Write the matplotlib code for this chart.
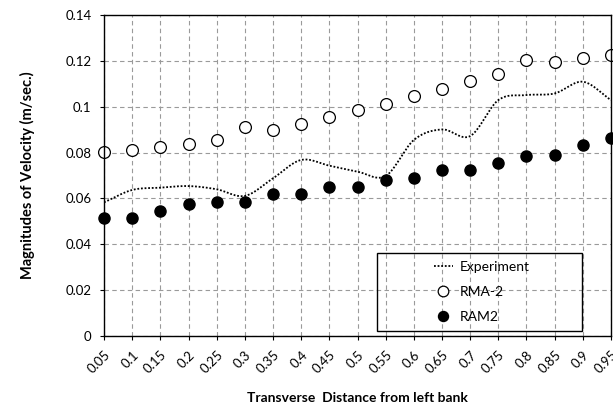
import numpy as np
import matplotlib
matplotlib.use("Agg")
import matplotlib.pyplot as plt
from matplotlib.patches import Rectangle

# transverse positions (category labels)
dist = ["0.05", "0.1", "0.15", "0.2", "0.25", "0.3", "0.35", "0.4", "0.45", "0.5",
        "0.55", "0.6", "0.65", "0.7", "0.75", "0.8", "0.85", "0.9", "0.95"]

experiment = [0.0583, 0.0637, 0.0647, 0.0654, 0.0640, 0.0611, 0.0688, 0.0768, 0.0743, 0.0717,
              0.0698, 0.0855, 0.0901, 0.0872, 0.1029, 0.1051, 0.1058, 0.1109, 0.1029]
rma2 = [0.0804, 0.0811, 0.0823, 0.0837, 0.0855, 0.0912, 0.0900, 0.0926, 0.0954, 0.0986,
        0.1013, 0.1047, 0.1079, 0.1111, 0.1143, 0.1205, 0.1194, 0.1214, 0.1227]
ram2 = [0.0515, 0.0515, 0.0545, 0.0577, 0.0584, 0.0584, 0.0618, 0.0618, 0.0648, 0.0648,
        0.0680, 0.0690, 0.0723, 0.0723, 0.0756, 0.0786, 0.0789, 0.0832, 0.0862]

plt.rcParams['font.family'] = ['Lato', 'DejaVu Sans']


def smooth(y, n=20):
    # Catmull-Rom curve through the points, like Excel's smoothed line
    y = np.asarray(y, dtype=float)
    p = np.concatenate([[2 * y[0] - y[1]], y, [2 * y[-1] - y[-2]]])
    xs, ys = [], []
    for i in range(len(y) - 1):
        t = np.linspace(0, 1, n, endpoint=False)
        p0, p1, p2, p3 = p[i], p[i + 1], p[i + 2], p[i + 3]
        v = 0.5 * (2 * p1 + (-p0 + p2) * t + (2 * p0 - 5 * p1 + 4 * p2 - p3) * t ** 2
                   + (-p0 + 3 * p1 - 3 * p2 + p3) * t ** 3)
        xs.append(i + t)
        ys.append(v)
    xs.append([len(y) - 1])
    ys.append([y[-1]])
    return np.concatenate(xs), np.concatenate(ys)


x = np.arange(len(dist))

fig = plt.figure(figsize=(6.13, 4.07), dpi=100)
ax = fig.add_axes([0.1697, 0.1744, 0.827, 0.7887])

sx, sy = smooth(experiment)
ax.plot(sx, sy, color='black', linestyle=(0, (1, 1)), linewidth=1.3, label='Experiment')
ax.plot(x, rma2, 'o', markerfacecolor='white', markeredgecolor='black', markersize=8.5,
        markeredgewidth=0.9, linestyle='none', label='RMA-2', clip_on=False)
ax.plot(x, ram2, 'o', color='black', markersize=8, linestyle='none', label='RAM2',
        clip_on=False)

ax.set_xlim(0, len(dist) - 1)
ax.set_ylim(0, 0.14)
ax.set_xticks(x)
ax.set_xticklabels(dist, rotation=45, ha='right', rotation_mode='anchor', fontsize=9.5)
ax.set_yticks(np.arange(0, 0.141, 0.02))
ax.set_yticklabels(['0', '0.02', '0.04', '0.06', '0.08', '0.1', '0.12', '0.14'], fontsize=9.5)
ax.tick_params(direction='out', length=3, width=0.8, color='black', pad=6)

ax.grid(True, linestyle=(0, (4, 3)), color='#9a9a9a', linewidth=0.8)
ax.set_axisbelow(True)
for s in ax.spines.values():
    s.set_color('black')
    s.set_linewidth(1.0)

ax.set_xlabel('Transverse  Distance from left bank', fontsize=10, fontweight='bold', labelpad=12)
ax.set_ylabel('Magnitudes of Velocity (m/sec.)', fontsize=10.5, fontweight='bold', labelpad=22)

# legend box (transparent, black border) with entries centred inside
ax.add_patch(Rectangle((0.538, 0.0165), 0.405, 0.2411, transform=ax.transAxes,
                       facecolor='none', edgecolor='black', linewidth=1.0, zorder=5))
leg = ax.legend(loc='center', bbox_to_anchor=(0.745, 0.137), frameon=False,
                fontsize=10, handlelength=1.4, handletextpad=0.5,
                labelspacing=0.95, markerscale=0.9)

fig.savefig('out.png', dpi=100)
